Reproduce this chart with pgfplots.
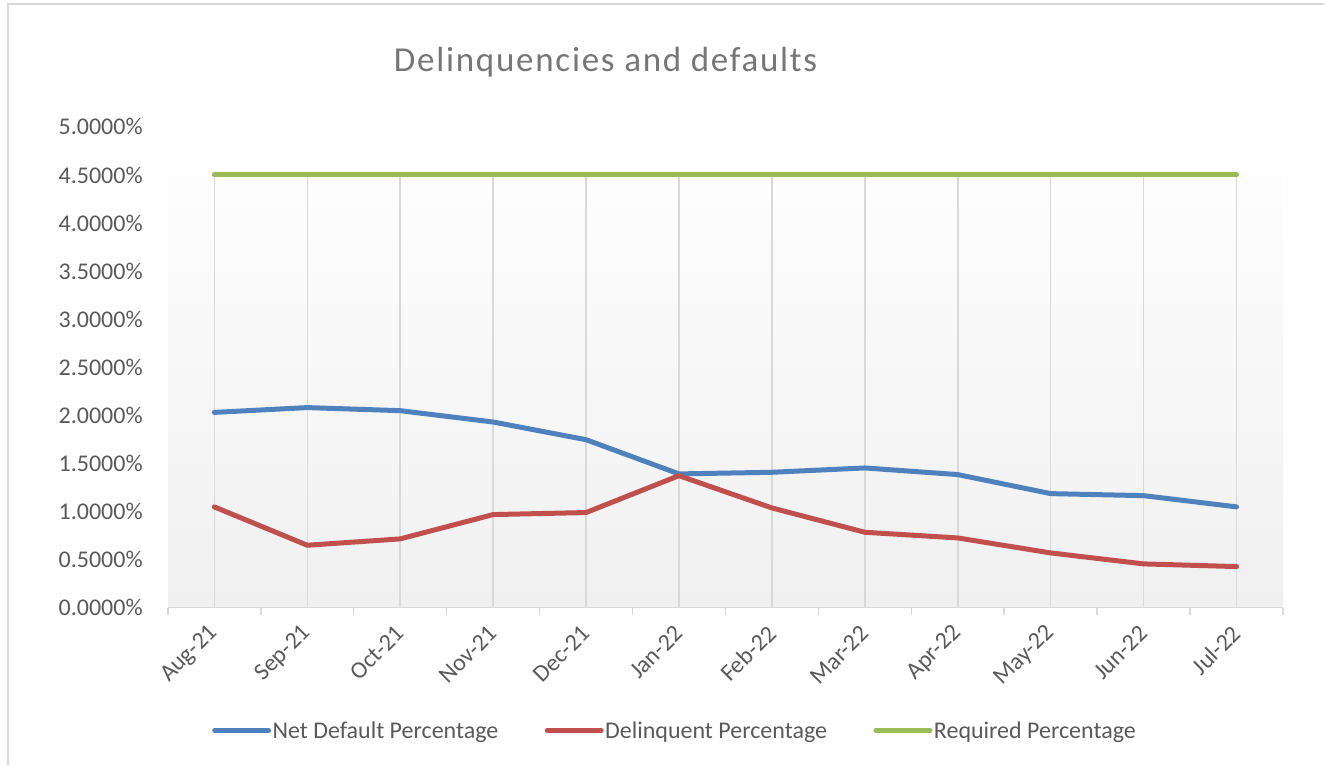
\documentclass[border=0pt]{standalone}
\usepackage{fontspec}
\setmainfont{Carlito}
\newfontfamily\titlefont[LetterSpace=5.0]{Carlito}
\usepackage{pgfplots}
\pgfplotsset{compat=1.18}
\definecolor{nblue}{HTML}{4F81BD}
\definecolor{nred}{HTML}{C0504D}
\definecolor{ngreen}{HTML}{9BBB59}
\definecolor{gridgray}{HTML}{D9D9D9}
\definecolor{txtgray}{HTML}{595959}
\definecolor{titlegray}{HTML}{767676}
\definecolor{bgbottom}{HTML}{F0F0F0}
\begin{document}
\begin{tikzpicture}
\path (0,0) rectangle (1325pt,766pt);
\draw[gridgray, line width=2pt] (8.5pt,0pt) -- (8.5pt,761.5pt) -- (1325pt,761.5pt);
\begin{axis}[
  at={(168pt,158pt)}, anchor=south west,
  scale only axis, width=1116pt, height=481pt,
  xmin=-0.5, xmax=11.5, ymin=0, ymax=5,
  axis lines*=left, separate axis lines,
  x axis line style={draw=gridgray, line width=1.5pt},
  y axis line style={draw=none},
  axis background/.style={shade, top color=white, bottom color=bgbottom},
  xtick={0,...,11},
  xticklabels={Aug-21,Sep-21,Oct-21,Nov-21,Dec-21,Jan-22,Feb-22,Mar-22,Apr-22,May-22,Jun-22,Jul-22},
  minor xtick={-0.5,0.5,...,11.5},
  ytick={0,0.5,...,5},
  major tick length=0pt, minor tick length=7pt,
  tick align=outside,
  minor tick style={draw=gridgray, line width=1.5pt},
  yticklabel={\pgfmathprintnumber[fixed,fixed zerofill,precision=4,assume math mode=true]{\tick}\%},
  ticklabel style={font=\fontsize{24}{28}\selectfont, text=txtgray},
  yticklabel style={anchor=east, inner sep=0pt, xshift=-25pt},
  xticklabel style={yshift=-22pt, anchor=east, rotate=45, inner sep=0pt},
  title={\titlefont Delinquencies and defaults},
  title style={at={(0.3925,1.122)}, anchor=center, font=\fontsize{35}{40}\selectfont, text=titlegray},
  legend columns=3,
  legend style={at={(0.4545,-0.2557)}, anchor=center, draw=none, fill=none,
    font=\fontsize{24}{28}\selectfont, text=txtgray,
    nodes={inner xsep=1.5pt, inner ysep=1pt},
    /tikz/every even column/.append style={column sep=45pt}},
  legend image code/.code={\draw[#1, line cap=round] (0pt,0pt) -- (54pt,0pt);},
  clip=false,
]
\addplot[ycomb, draw=gridgray, line width=1.5pt, forget plot] coordinates {
(0,4.5) (1,4.5) (2,4.5) (3,4.5) (4,4.5) (5,4.5) (6,4.5) (7,4.5) (8,4.5) (9,4.5) (10,4.5) (11,4.5)};
\addplot[nblue, line width=5pt, line join=round, line cap=round] coordinates {
(0,2.03) (1,2.08) (2,2.048) (3,1.93) (4,1.746) (5,1.39) (6,1.407) (7,1.452) (8,1.383) (9,1.185) (10,1.164) (11,1.047)};
\addlegendentry{Net Default Percentage}
\addplot[nred, line width=5pt, line join=round, line cap=round] coordinates {
(0,1.047) (1,0.648) (2,0.714) (3,0.967) (4,0.988) (5,1.372) (6,1.036) (7,0.783) (8,0.724) (9,0.568) (10,0.454) (11,0.426)};
\addlegendentry{Delinquent Percentage}
\addplot[ngreen, line width=5pt, line join=round, line cap=round] coordinates {
(0,4.5) (1,4.5) (2,4.5) (3,4.5) (4,4.5) (5,4.5) (6,4.5) (7,4.5) (8,4.5) (9,4.5) (10,4.5) (11,4.5)};
\addlegendentry{Required Percentage}
\end{axis}
\end{tikzpicture}
\end{document}
